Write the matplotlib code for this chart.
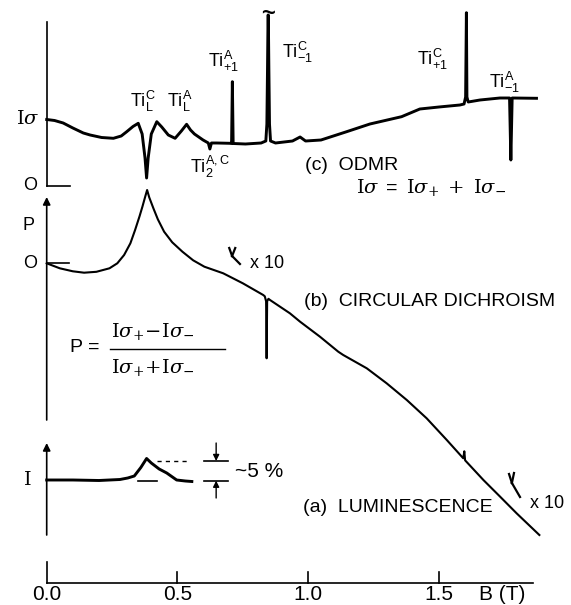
import matplotlib
matplotlib.use("Agg")
import matplotlib.pyplot as plt

plt.rcParams['font.family'] = ['Liberation Sans', 'DejaVu Sans']
plt.rcParams['mathtext.fontset'] = 'custom'
plt.rcParams['mathtext.rm'] = 'DejaVu Serif'
plt.rcParams['mathtext.it'] = 'DejaVu Serif:italic'
plt.rcParams['mathtext.sf'] = 'Liberation Sans'

# (c) ODMR signal, arbitrary units above its zero line
odmr_B = [0.000, 0.030, 0.063, 0.100, 0.140, 0.166, 0.210, 0.255, 0.285, 0.306,
          0.330, 0.350, 0.365, 0.376, 0.382, 0.388, 0.400, 0.421, 0.440, 0.465,
          0.491, 0.515, 0.535, 0.550, 0.565, 0.598, 0.618, 0.624, 0.630, 0.650,
          0.700, 0.707, 0.710, 0.713, 0.760, 0.820, 0.838, 0.842, 0.8445, 0.8465,
          0.8475, 0.8495, 0.852, 0.856, 0.875, 0.940, 0.969, 0.990, 1.049, 1.147,
          1.236, 1.357, 1.427, 1.500, 1.580, 1.596, 1.602, 1.605, 1.607, 1.612,
          1.657, 1.733, 1.770, 1.775, 1.780, 1.873]
odmr_I = [66.5, 65.5, 63.0, 58.0, 53.0, 51.0, 48.5, 47.7, 50.0, 54.3,
          59.5, 62.7, 52.0, 28.0, 8.0, 28.0, 52.0, 64.3, 59.0, 51.0,
          47.7, 55.0, 61.7, 56.0, 52.0, 46.0, 43.0, 37.0, 43.0, 43.0,
          42.7, 42.5, 104.3, 42.5, 42.0, 43.0, 45.0, 62.0, 119.0, 171.0,
          171.0, 119.0, 62.0, 45.0, 43.0, 45.0, 49.0, 45.0, 46.0, 54.3,
          62.0, 69.3, 77.0, 79.0, 81.0, 82.0, 89.0, 173.3, 89.0, 84.0,
          86.0, 88.0, 88.0, 26.0, 88.0, 87.7]

# (b) circular dichroism P
cd_B = [0.000, 0.050, 0.100, 0.143, 0.190, 0.240, 0.270, 0.296, 0.320, 0.338,
        0.355, 0.366, 0.376, 0.384, 0.392, 0.408, 0.425, 0.449, 0.480, 0.519,
        0.560, 0.603, 0.675, 0.750, 0.828, 0.834, 0.839, 0.841, 0.843, 0.848,
        0.854, 0.930, 0.969, 1.045, 1.115, 1.134, 1.224, 1.300, 1.377, 1.453,
        1.530, 1.593, 1.597, 1.600, 1.670, 1.734, 1.797, 1.884]
cd_P = [0.0, -5.0, -8.0, -9.4, -8.5, -5.0, 0.0, 8.3, 20.0, 33.3,
        47.0, 56.6, 66.0, 73.3, 66.0, 55.0, 44.0, 31.6, 21.0, 11.6,
        3.0, -3.4, -10.0, -20.0, -31.7, -33.0, -38.0, -95.0, -38.0, -35.5,
        -36.7, -50.0, -58.4, -73.4, -88.4, -91.7, -105.0, -120.0, -136.7, -155.0,
        -176.7, -195.0, -188.0, -197.0, -216.7, -233.4, -250.0, -271.7]

# (a) luminescence intensity
lum_B = [0.000, 0.100, 0.200, 0.280, 0.310, 0.335, 0.360, 0.382, 0.400, 0.430,
         0.459, 0.497, 0.530, 0.555]
lum_I = [0.0, 0.0, -0.5, 0.5, 2.0, 4.0, 12.5, 21.5, 17.0, 11.0,
         7.0, 0.0, -1.0, -1.5]

tick_B = [0.0, 0.5, 1.0, 1.5]
tick_labels = ['0.0', '0.5', '1.0', '1.5']

# vertical placement of the three traces
y_odmr, y_cd, y_lum, y_axis = 419.0, 341.7, 125.0, 22.3

fig = plt.figure(figsize=(5.71, 6.05), dpi=100)
ax = fig.add_axes([0, 0, 1, 1])
ax.set_xlim(-0.1786, 2.005)
ax.set_ylim(0, 605)
ax.axis('off')

k = 'black'
ax.plot(odmr_B, [y_odmr + v for v in odmr_I], color=k, lw=2.1, solid_joinstyle='round')
ax.plot(cd_B, [y_cd + v for v in cd_P], color=k, lw=1.5, solid_joinstyle='round')
ax.plot(lum_B, [y_lum + v for v in lum_I], color=k, lw=2.1, solid_joinstyle='round')

# break mark on top of the off-scale line
ax.text(0.847, 592, '~', ha='center', va='center', fontsize=17, fontweight='bold')

# vertical axes
ax.plot([0, 0], [583.3, y_odmr], color=k, lw=1.2)
ax.plot([0, 0.089], [y_odmr, y_odmr], color=k, lw=1.2)
ax.plot([0, 0.086], [y_cd, y_cd], color=k, lw=1.2)
arrow = dict(arrowstyle='-|>', color=k, lw=1.2, mutation_scale=11,
             shrinkA=0, shrinkB=0)
ax.annotate('', xy=(0, 408), xytext=(0, 185), arrowprops=arrow)
ax.annotate('', xy=(0, 162), xytext=(0, 70), arrowprops=arrow)

# field axis
ax.plot([0, 1.861], [y_axis, y_axis], color=k, lw=1.2)
for b, lab in zip(tick_B, tick_labels):
    top = 43.3 if b == 0 else 33.3
    ax.plot([b, b], [y_axis, top], color=k, lw=1.2)
    ax.text(b, 10, lab, ha='center', va='center', fontsize=15)
ax.text(1.741, 10, 'B (T)', ha='center', va='center', fontsize=15)

# axis letters
ax.text(-0.072, 486, r'$\mathrm{I}\sigma$', ha='center', va='center', fontsize=14)
ax.text(-0.064, y_odmr, 'O', ha='center', va='center', fontsize=13)
ax.text(-0.068, 380, 'P', ha='center', va='center', fontsize=13)
ax.text(-0.064, y_cd, 'O', ha='center', va='center', fontsize=13)
ax.text(-0.074, y_lum, r'$\mathrm{I}$', ha='center', va='center', fontsize=14)

# line assignments
ti_labels = [
    (0.319, 498, r'$\mathsf{Ti}_{\mathsf{L}}^{\mathsf{C}}$'),
    (0.460, 498, r'$\mathsf{Ti}_{\mathsf{L}}^{\mathsf{A}}$'),
    (0.548, 432, r'$\mathsf{Ti}_{\mathsf{2}}^{\mathsf{A,C}}$'),
    (0.617, 538, r'$\mathsf{Ti}_{\mathsf{+1}}^{\mathsf{A}}$'),
    (0.900, 547, r'$\mathsf{Ti}_{\mathsf{-1}}^{\mathsf{C}}$'),
    (1.416, 540, r'$\mathsf{Ti}_{\mathsf{+1}}^{\mathsf{C}}$'),
    (1.691, 517, r'$\mathsf{Ti}_{\mathsf{-1}}^{\mathsf{A}}$'),
]
for b, y, s in ti_labels:
    ax.text(b, y, s, ha='left', va='baseline', fontsize=13)

# panel titles
ax.text(0.987, 440, '(c)  ODMR', ha='left', va='center', fontsize=14)
ax.text(1.183, 417, r'$\mathrm{I}\sigma\;\mathsf{=}\;\mathrm{I}\sigma_{+}\;+\;\mathrm{I}\sigma_{-}$',
        ha='left', va='center', fontsize=14)
ax.text(0.984, 303, '(b)  CIRCULAR DICHROISM', ha='left', va='center', fontsize=14)
ax.text(0.980, 98, '(a)  LUMINESCENCE', ha='left', va='center', fontsize=14)

# definition of P
ax.text(0.089, 257, 'P =', ha='left', va='center', fontsize=14)
ax.plot([0.242, 0.682], [256, 256], color=k, lw=1.0)
ax.text(0.407, 273, r'$\mathrm{I}\sigma_{+}\!-\!\mathrm{I}\sigma_{-}$',
        ha='center', va='center', fontsize=14)
ax.text(0.407, 237, r'$\mathrm{I}\sigma_{+}\!+\!\mathrm{I}\sigma_{-}$',
        ha='center', va='center', fontsize=14)

# x10 gain marks
for pts in ([(0.698, 357), (0.709, 349)], [(0.721, 357), (0.709, 349)],
            [(0.709, 349), (0.739, 341)]):
    ax.plot(*zip(*pts), color=k, lw=1.6)
for pts in ([(1.768, 131), (1.779, 122)], [(1.787, 132), (1.779, 122)],
            [(1.779, 122), (1.810, 108)]):
    ax.plot(*zip(*pts), color=k, lw=1.6)
ax.text(0.778, 342, 'x 10', ha='left', va='center', fontsize=13)
ax.text(1.848, 102, 'x 10', ha='left', va='center', fontsize=13)

# size of the luminescence change
ax.plot([0.421, 0.541], [144, 144], color=k, lw=1.0, ls=(0, (3, 3)))
ax.plot([0.350, 0.421], [124.3, 124.3], color=k, lw=1.2)
ax.plot([0.602, 0.695], [144, 144], color=k, lw=1.2)
ax.plot([0.602, 0.695], [124.3, 124.3], color=k, lw=1.2)
small = dict(arrowstyle='-|>', color=k, lw=1.0, mutation_scale=9,
             shrinkA=0, shrinkB=0)
ax.annotate('', xy=(0.648, 144), xytext=(0.648, 162), arrowprops=small)
ax.annotate('', xy=(0.648, 124.3), xytext=(0.648, 107), arrowprops=small)
ax.text(0.720, 133.3, '~5 %', ha='left', va='center', fontsize=15)

fig.savefig('out.png', dpi=100)
